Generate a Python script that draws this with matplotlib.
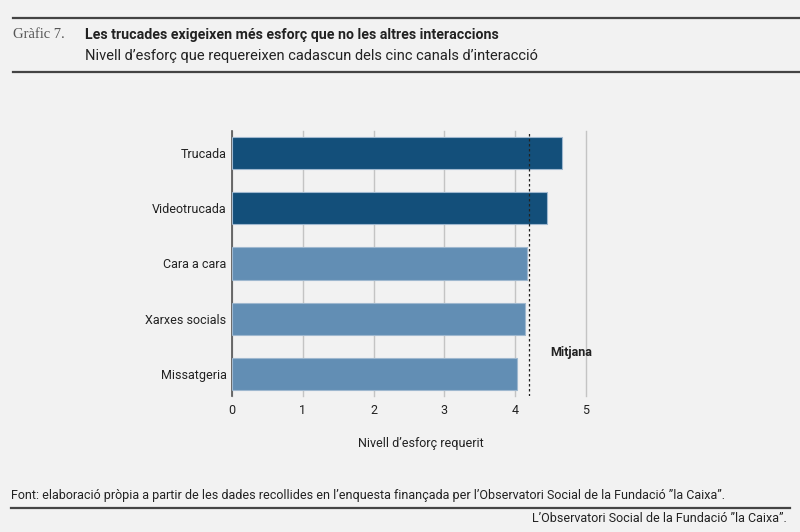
import matplotlib.pyplot as plt
import numpy as np

plt.rcParams['font.family'] = ['Roboto', 'DejaVu Sans']

canals = ['Trucada', 'Videotrucada', 'Cara a cara', 'Xarxes socials', 'Missatgeria']
esforc = [4.66, 4.45, 4.17, 4.14, 4.03]
colors = ['#134f7a', '#134f7a', '#628eb4', '#628eb4', '#628eb4']
mitjana = 4.19

bg = '#f2f2f2'
fig = plt.figure(figsize=(8, 5.32), dpi=100, facecolor=bg)
ax = fig.add_axes([0.29, 0.2556, 0.4425, 0.4982], facecolor=bg)

y = np.arange(len(canals))
ax.barh(y, esforc, height=0.58, color=colors, edgecolor='#9fb8cf', linewidth=0.8, zorder=3)
ax.axvline(mitjana, color='#222222', linestyle=(0, (2, 2)), linewidth=0.9, zorder=4)
ax.text(4.5, 3.6, 'Mitjana', fontsize=9, fontweight='bold', color='#222222', va='center', ha='left')

ax.set_xlim(0, 5)
ax.set_ylim(4.39, -0.39)
ax.set_yticks(y)
ax.set_yticklabels(canals)
ax.set_xticks(range(6))
ax.tick_params(length=0, labelsize=9, colors='#222222')
ax.tick_params(axis='y', pad=4)
ax.tick_params(axis='x', pad=6)
ax.grid(axis='x', color='#c4c4c4', linewidth=1, zorder=0)
for gl in ax.get_xgridlines():
    gl.set_clip_on(False)
for s in ['top', 'right', 'bottom']:
    ax.spines[s].set_visible(False)
ax.spines['left'].set_color('#555555')
ax.spines['left'].set_linewidth(1.2)
ax.set_xlabel('Nivell d’esforç requerit', fontsize=9, color='#222222', labelpad=14, x=0.534)

# header
fig.add_artist(plt.Line2D([13/800, 1], [1-18/532]*2, color='#444444', linewidth=1.6))
fig.add_artist(plt.Line2D([13/800, 1], [1-72/532]*2, color='#444444', linewidth=1.6))
fig.text(13/800, 1-35/532, 'Gràfic 7.', family=['Liberation Serif', 'DejaVu Serif'], fontsize=10.5,
         color='#555555', va='center')
fig.text(85/800, 1-35/532, 'Les trucades exigeixen més esforç que no les altres interaccions',
         fontsize=10.2, fontweight='bold', color='#222222', va='center')
fig.text(85/800, 1-56/532, 'Nivell d’esforç que requereixen cadascun dels cinc canals d’interacció',
         fontsize=10.5, color='#222222', va='center')

# footer
fig.add_artist(plt.Line2D([11/800, 790/800], [1-508/532]*2, color='#444444', linewidth=1.6))
fig.text(11/800, 1-495/532,
         'Font: elaboració pròpia a partir de les dades recollides en l’enquesta finançada per l’Observatori Social de la Fundació ”la Caixa”.',
         family=['Liberation Sans Narrow', 'Roboto', 'DejaVu Sans'], fontsize=9, color='#222222', va='center')
fig.text(787/800, 1-519/532, 'L’Observatori Social de la Fundació ”la Caixa”.',
         family=['Liberation Sans Narrow', 'Roboto', 'DejaVu Sans'], fontsize=9, color='#222222',
         va='center', ha='right')

fig.savefig('out.png', dpi=100, facecolor=bg)
